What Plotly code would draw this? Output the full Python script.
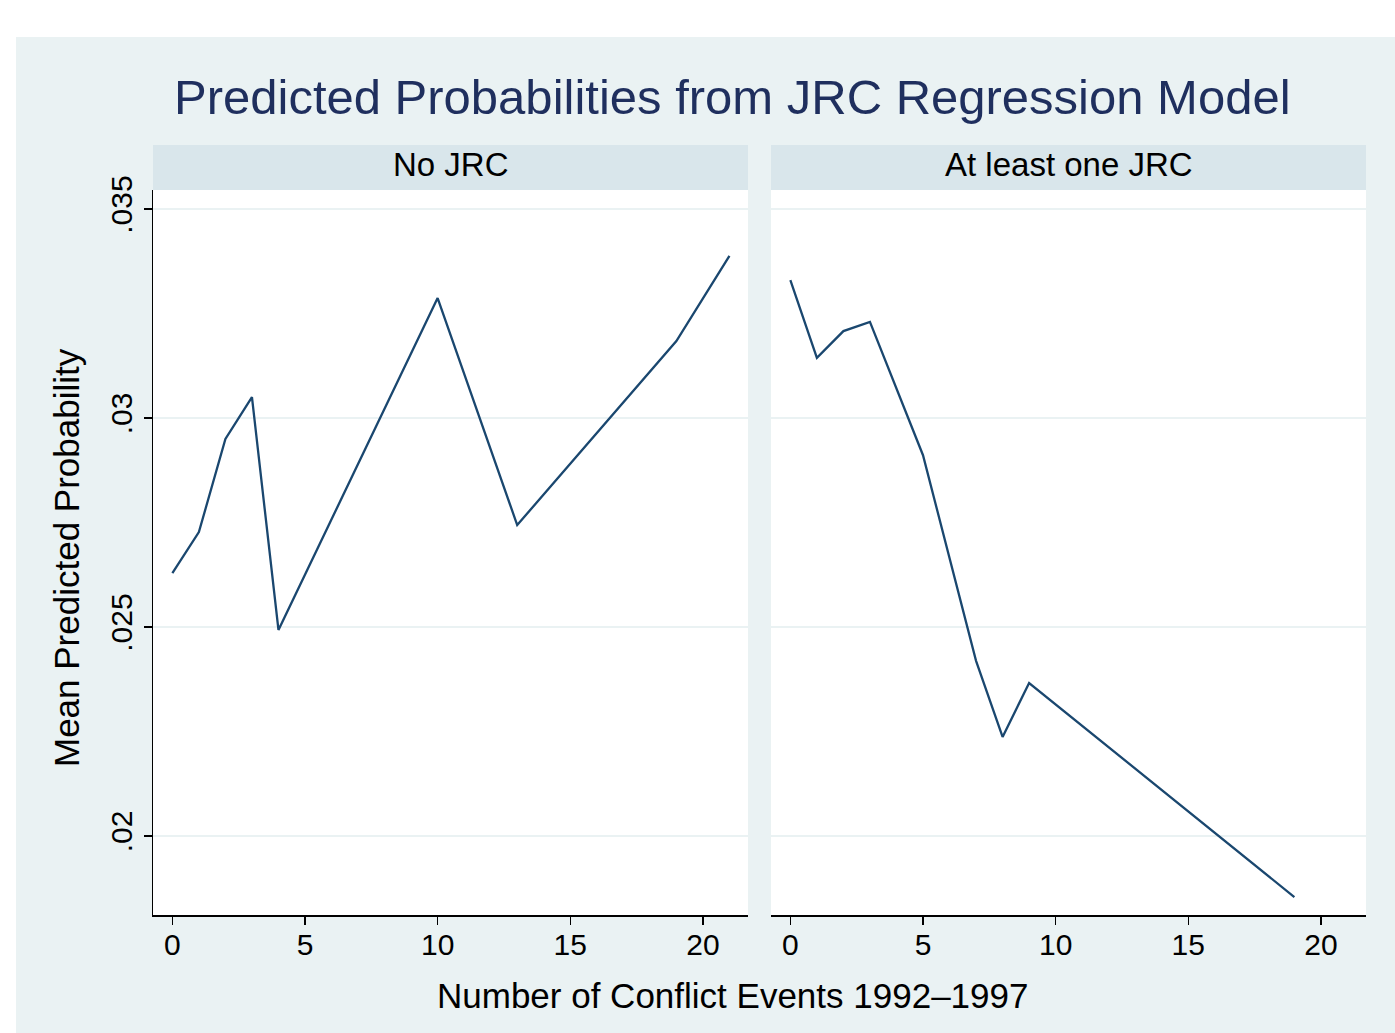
import plotly.graph_objects as go

# ---- data ----
panel_titles = ["No JRC", "At least one JRC"]
x_no = [0, 1, 2, 3, 4, 10, 13, 19, 21]
y_no = [0.02629, 0.02727, 0.02950, 0.03050, 0.02493, 0.03287, 0.02744, 0.03184, 0.03388]
x_jrc = [0, 1, 2, 3, 5, 7, 8, 9, 19]
y_jrc = [0.03330, 0.03144, 0.03208, 0.03230, 0.02911, 0.02419, 0.02237, 0.02366, 0.01854]
x_ticks = [0, 5, 10, 15, 20]
y_ticks = [0.02, 0.025, 0.03, 0.035]
y_ticktext = [".02", ".025", ".03", ".035"]

title = "Predicted Probabilities from JRC Regression Model"
x_title = "Number of Conflict Events 1992\u20131997"
y_title = "Mean Predicted Probability"

W, H = 1395, 1033
FONT = "Liberation Sans, Arial, Helvetica, sans-serif"
LINE = "#1a476f"
BG = "#eaf2f3"
STRIP = "#d9e6eb"

def px(x):
    return x / W

def py(y):
    return (H - y) / H

panels = [(153, 748), (771, 1366)]
plot_top, plot_bot = 190, 915
strip_top = 145

fig = go.Figure()
fig.add_trace(go.Scatter(x=x_no, y=y_no, mode="lines", line=dict(color=LINE, width=2.3),
                         xaxis="x", yaxis="y", showlegend=False))
fig.add_trace(go.Scatter(x=x_jrc, y=y_jrc, mode="lines", line=dict(color=LINE, width=2.3),
                         xaxis="x2", yaxis="y2", showlegend=False))

shapes = [dict(type="rect", xref="paper", yref="paper", x0=px(16), x1=1, y0=0, y1=py(37),
               fillcolor=BG, line=dict(width=0), layer="below")]
annotations = []
for (l, r), t in zip(panels, panel_titles):
    shapes.append(dict(type="rect", xref="paper", yref="paper", x0=px(l), x1=px(r),
                       y0=py(plot_bot), y1=py(plot_top), fillcolor="white",
                       line=dict(width=0), layer="below"))
    shapes.append(dict(type="rect", xref="paper", yref="paper", x0=px(l), x1=px(r),
                       y0=py(plot_top), y1=py(strip_top), fillcolor=STRIP,
                       line=dict(width=0), layer="below"))
    annotations.append(dict(text=t, xref="paper", yref="paper", x=(px(l) + px(r)) / 2,
                            y=py(164), showarrow=False,
                            xanchor="center", yanchor="middle",
                            font=dict(family=FONT, size=33, color="black")))

annotations.append(dict(text=title, xref="paper", yref="paper", x=px(732), y=py(97),
                        showarrow=False, xanchor="center", yanchor="middle",
                        font=dict(family=FONT, size=49, color="#1f2f5e")))
annotations.append(dict(text=x_title, xref="paper", yref="paper", x=px(732), y=py(995),
                        showarrow=False, xanchor="center", yanchor="middle",
                        font=dict(family=FONT, size=35, color="black")))
annotations.append(dict(text=y_title, xref="paper", yref="paper", x=px(66), y=py(558),
                        showarrow=False, xanchor="center", yanchor="middle", textangle=-90,
                        font=dict(family=FONT, size=35, color="black")))

xr = [-0.73, 21.7]
yr = [0.01811, 0.035455]
common_x = dict(range=xr, tickvals=x_ticks, ticks="outside", ticklen=8, tickwidth=1.5,
                tickcolor="black", showline=True, linecolor="black", linewidth=1.5,
                showgrid=False, zeroline=False, fixedrange=True, automargin=False,
                ticklabelstandoff=-6,
                tickfont=dict(family=FONT, size=30, color="black"))
common_y = dict(range=yr, tickvals=y_ticks, showgrid=True, gridcolor=BG, gridwidth=2,
                zeroline=False, fixedrange=True, automargin=False)

fig.update_layout(
    width=W, height=H,
    margin=dict(l=0, r=0, t=0, b=0, pad=0, autoexpand=False),
    paper_bgcolor="white",
    plot_bgcolor="rgba(0,0,0,0)",
    shapes=shapes,
    annotations=annotations,
    xaxis=dict(domain=[px(153), px(748)], anchor="y", **common_x),
    xaxis2=dict(domain=[px(771), px(1366)], anchor="y2", **common_x),
    yaxis=dict(domain=[py(plot_bot), py(plot_top)], anchor="x", ticktext=y_ticktext,
               ticks="outside", ticklen=8, tickwidth=1.5, tickcolor="black",
               showline=True, linecolor="black", linewidth=1.5, tickangle=-90,
               tickfont=dict(family=FONT, size=30, color="black"), **common_y),
    yaxis2=dict(domain=[py(plot_bot), py(plot_top)], anchor="x2", showticklabels=False,
                ticks="", showline=False, **common_y),
)

post = (
    "document.documentElement.style.margin='0';"
    "document.body.style.margin='0';document.body.style.overflow='hidden';"
    "var gd=document.getElementById('{plot_id}');"
    "gd.style.position='fixed';gd.style.top='0px';gd.style.left='0px';"
)

fig.write_html("out.html", post_script=post,
               config={"displayModeBar": False, "staticPlot": True})
